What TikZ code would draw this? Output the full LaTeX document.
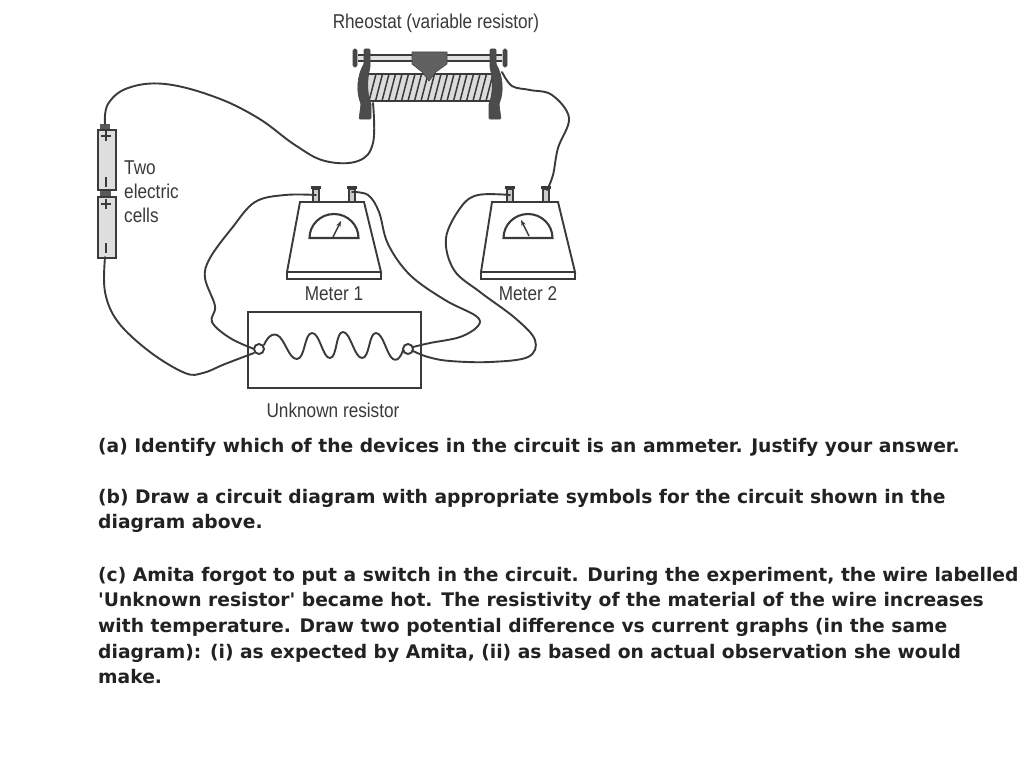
\documentclass[tikz,border=0pt]{standalone}
\usepackage{fontspec}
\newfontfamily\bodyfont[Ligatures=TeXOff]{DejaVu Sans}
\newfontfamily\lab[FakeStretch=0.86]{Liberation Sans}
\usetikzlibrary{arrows.meta}
\definecolor{ink}{HTML}{3A3A3A}
\definecolor{txt}{HTML}{222222}
\tikzset{
  wire/.style={draw=ink,line width=1.9pt,line cap=round,line join=round},
  outline/.style={draw=ink,line width=1.9pt,line join=miter},
  devlabel/.style={font=\lab\fontsize{20}{24}\selectfont,text=ink,inner sep=0pt,anchor=base},
  sidelabel/.style={devlabel,anchor=base west},
  bodyline/.style={font=\bodyfont\fontsize{18.7}{20}\selectfont\bfseries,text=txt,inner sep=0pt,anchor=base west},
  cellbody/.style={draw=ink,line width=1.8pt,fill=black!13},
  dark/.style={fill=black!62,draw=black!72,line width=.6pt},
  post/.style={draw=ink,line width=1.3pt,fill=black!20},
  termcap/.style={draw=ink,line width=2.2pt},
  dial/.style={draw=ink,line width=2.1pt,line join=miter},
  needle/.style={draw=ink,line width=1.5pt,-{Stealth[length=6pt,width=4.5pt]}},
}
\begin{document}
\begin{tikzpicture}[x=1pt,y=-1pt]
\useasboundingbox[fill=white] (0,0) rectangle (1024,765);

% ---------- rheostat
\fill[black!14] (368,74) rectangle (492,101);
\foreach \i in {0,...,18} {
  \draw[ink,line width=1.5pt] ({376+6.5*\i},74) -- ({369+6.5*\i},101);
}
\draw[outline,line width=1.7pt] (368,74) -- (492,74) (368,101) -- (492,101);
\fill[black!12] (358,56) rectangle (502,60);
\draw[ink,line width=1.8pt] (358,55) -- (502,55) (358,61) -- (502,61);
\draw[dark] (412,52) -- (447,52) -- (447,64) -- (436,72) -- (429,81) -- (422,72) -- (412,64) -- cycle;
\draw[dark,fill=black!72,rounded corners=1.5pt] (353,49) rectangle (357,67);
\draw[dark,fill=black!72,rounded corners=1.5pt] (503,49) rectangle (507,67);
\draw[dark,fill=black!70,rounded corners=1pt] (364,49) -- (370,49) -- (370,68) .. controls (367,78) and (367,95) .. (371,103) -- (371,119) -- (359,119) -- (361,104) .. controls (356,92) and (357,76) .. (364,64) -- cycle;
\draw[dark,fill=black!70,rounded corners=1pt] (496,49) -- (490,49) -- (490,68) .. controls (493,78) and (493,95) .. (489,103) -- (489,119) -- (501,119) -- (499,104) .. controls (504,92) and (503,76) .. (496,64) -- cycle;
\coordinate (rhL) at (373,103);
\coordinate (rhR) at (502,72);
\node[devlabel,anchor=base] (rhlabel) at (436,29) {Rheostat (variable resistor)};

% ---------- cells
\fill[black!65] (100,124) rectangle (110,130);
\fill[black!65] (100,189) rectangle (111,196);
\node[cellbody,minimum width=18pt,minimum height=60pt,inner sep=0pt,anchor=north west] (cellA) at (97,129) {};
\node[cellbody,minimum width=18pt,minimum height=61pt,inner sep=0pt,anchor=north west] (cellB) at (97,196) {};
\draw[ink,line width=1.6pt] (101,136) -- (111,136) (106,131) -- (106,141) (106,177) -- (106,187);
\draw[ink,line width=1.6pt] (101,204) -- (111,204) (106,199) -- (106,209) (106,243) -- (106,253);
\coordinate (cellTop) at (105,124);
\coordinate (cellBot) at (105,257);
\node[sidelabel] (t1) at (124,174) {Two};
\node[sidelabel] (t2) at (124,198) {electric};
\node[sidelabel] (t3) at (124,222) {cells};

% ---------- meter 1
\draw[outline,fill=white] (300,202) -- (364,202) -- (381,272) -- (287,272) -- cycle;
\draw[outline,fill=white] (287,272) rectangle (381,279);
\draw[dial] (309.5,238) arc[start angle=180,end angle=360,x radius=24.5,y radius=24] -- cycle;
\draw[needle] (333,237) -- (341,221);
\draw[post] (313,189) rectangle (319,202);
\draw[post] (349,189) rectangle (355,202);
\draw[termcap] (311,187.5) -- (321,187.5) (347,187.5) -- (357,187.5);
\coordinate (m1L) at (316,195);
\coordinate (m1R) at (352,192);
\node[devlabel] (m1) at (334,300) {Meter 1};

% ---------- meter 2
\draw[outline,fill=white] (492,202) -- (558,202) -- (575,272) -- (481,272) -- cycle;
\draw[outline,fill=white] (481,272) rectangle (575,279);
\draw[dial] (503.5,238) arc[start angle=180,end angle=360,x radius=24.5,y radius=24] -- cycle;
\draw[needle] (529,236) -- (521,220);
\draw[post] (507,189) rectangle (513,202);
\draw[post] (543,189) rectangle (549,202);
\draw[termcap] (505,187.5) -- (515,187.5) (541,187.5) -- (551,187.5);
\coordinate (m2L) at (510,195);
\coordinate (m2R) at (547,190);
\node[devlabel] (m2) at (528,300) {Meter 2};

% ---------- unknown resistor
\node[draw=ink,line width=2pt,minimum width=173pt,minimum height=76pt,inner sep=0pt,anchor=north west] (box) at (247,311) {};
\node[devlabel] (boxlabel) at (333,417) {Unknown resistor};

% ---------- wires
\draw[wire] plot[smooth,tension=.65] coordinates {(cellTop) (108,104) (128,88) (165,84) (215,97) (258,118) (295,145) (325,161) (358,161) (373,143) (rhL)};
\draw[wire] plot[smooth,tension=.6] coordinates {(rhR) (512,86) (530,90) (552,95) (569,118) (558,148) (553,175) (m2R)};
\draw[wire] plot[smooth,tension=.6] coordinates {(m1L) (285,195) (255,202) (232,228) (210,258) (205,278) (215,306) (212,322) (230,338) (254,349)};
\draw[wire] plot[smooth,tension=.6] coordinates {(cellBot) (105,292) (118,322) (150,352) (185,373) (203,373) (225,364) (254,353)};
\draw[wire] plot[smooth,tension=.6] coordinates {(m1R) (368,195) (379,212) (388,244) (410,275) (445,300) (476,316) (478,326) (460,337) (430,343) (413,347)};
\draw[wire] plot[smooth,tension=.6] coordinates {(m2L) (478,195) (461,207) (446,238) (454,270) (480,292) (515,318) (535,340) (528,357) (490,362) (450,361) (428,357) (413,351)};

% resistor coil
\draw[wire] plot[smooth,tension=.85] coordinates {(264,345) (277,335) (297,359) (312,333) (330,358) (343,332) (362,358) (376,333) (393,359) (403,350)};
\node[circle,draw=ink,line width=1.9pt,fill=white,minimum size=10pt,inner sep=0pt] (resL) at (259,349) {};
\node[circle,draw=ink,line width=1.9pt,fill=white,minimum size=10pt,inner sep=0pt] (resR) at (408,349) {};

% ---------- question text
\node[bodyline] (a1) at (98,452.5) {(a) Identify which of the devices in the circuit is an ammeter. Justify your answer.};
\node[bodyline] (b1) at (98,503.5) {(b) Draw a circuit diagram with appropriate symbols for the circuit shown in the};
\node[bodyline] (b2) at (98,528.5) {diagram above.};
\node[bodyline] (c1) at (98,581.5) {(c) Amita forgot to put a switch in the circuit. During the experiment, the wire labelled};
\node[bodyline] (c2) at (98,606.5) {'Unknown resistor' became hot. The resistivity of the material of the wire increases};
\node[bodyline] (c3) at (98,632.5) {with temperature. Draw two potential difference vs current graphs (in the same};
\node[bodyline] (c4) at (98,658.5) {diagram): (i) as expected by Amita, (ii) as based on actual observation she would};
\node[bodyline] (c5) at (98,683.5) {make.};
\end{tikzpicture}
\end{document}
